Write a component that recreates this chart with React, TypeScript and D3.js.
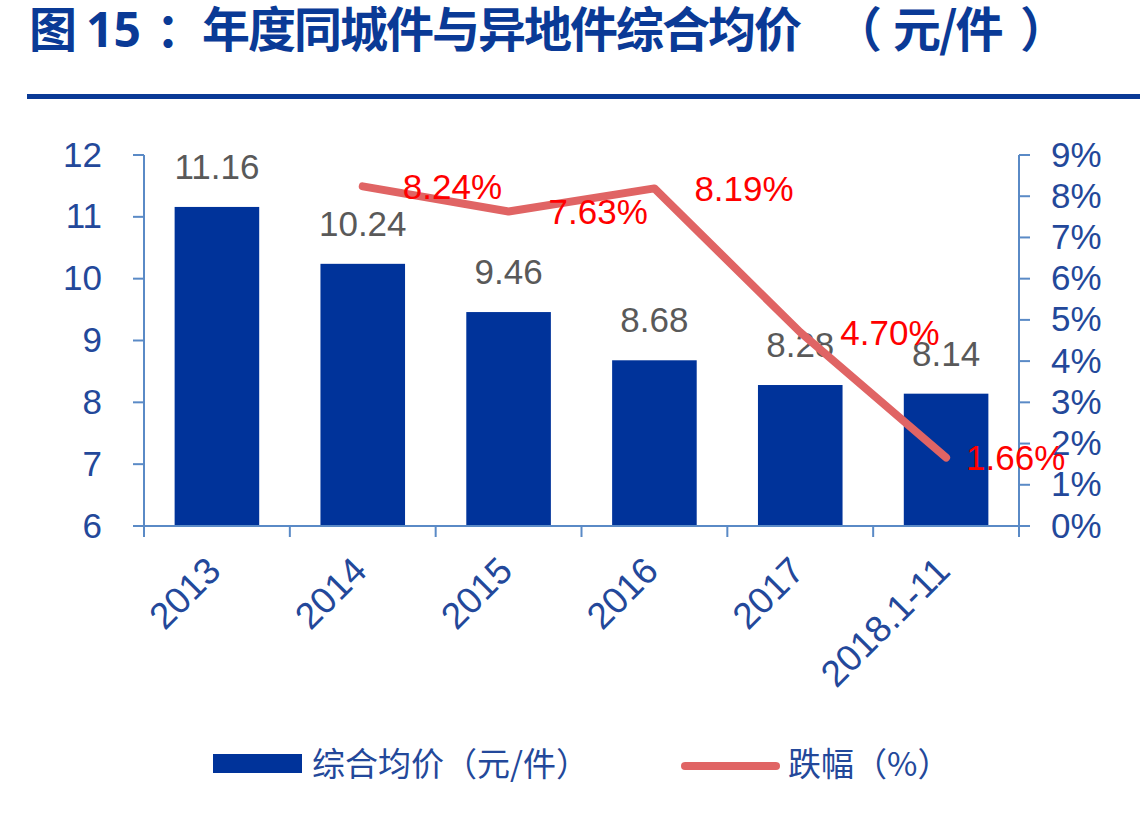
import React from "react";
import * as d3 from "d3";

const categories = ["2013", "2014", "2015", "2016", "2017", "2018.1-11"];
const avgPrice = [11.16, 10.24, 9.46, 8.68, 8.28, 8.14];
const dropPct: (number | null)[] = [null, 8.24, 7.63, 8.19, 4.7, 1.66];
const leftTicks = [6, 7, 8, 9, 10, 11, 12];
const rightTicks = [0, 1, 2, 3, 4, 5, 6, 7, 8, 9];
const titleHead = ["图", "15", "："];
const titleBody = "年度同城件与异地件综合均价";
const titleTail = ["（", "元/件", "）"];
const legendBar = "综合均价（元/件）";
const legendLine = "跌幅（%）";

const W = 1140;
const H = 816;
const plotL = 144;
const plotR = 1019;
const plotT = 155;
const plotB = 526;

const NUM_FONT = "'Liberation Sans', Arial, sans-serif";
const CJK_FONT = "'Noto Sans CJK SC', 'Noto Sans', sans-serif";
const AXIS = "#5A8AC6";
const TICK_TXT = "#23489A";
const BAR = "#00339A";
const LINE = "#E06464";
const TITLE = "#0A3A96";

export default function App() {
  const x = d3
    .scaleBand<string>()
    .domain(categories)
    .range([plotL, plotR])
    .paddingInner(0.42)
    .paddingOuter(0.21);
  const yL = d3.scaleLinear().domain([6, 12]).range([plotB, plotT]);
  const yR = d3.scaleLinear().domain([0, 9]).range([plotB, plotT]);
  const cx = (c: string) => (x(c) ?? 0) + x.bandwidth() / 2;

  const linePts = categories
    .map((c, i) => ({ c, v: dropPct[i] }))
    .filter((d) => d.v !== null) as { c: string; v: number }[];
  const lineGen = d3
    .line<{ c: string; v: number }>()
    .x((d) => cx(d.c))
    .y((d) => yR(d.v));

  const xTicks = d3.range(categories.length + 1).map((i) => plotL + i * x.step());

  const titleY = 47;

  return (
    <svg width={W} height={H} style={{ display: "block", position: "absolute", left: 0, top: 0 }}>
      <rect width={W} height={H} fill="#fff" />
      {/* title */}
      <g fontFamily={CJK_FONT} fontWeight={700} fontSize={48} fill={TITLE}>
        <text x={29} y={titleY}>{titleHead[0]}</text>
        <text x={86} y={titleY} fontFamily={"'Noto Sans', " + CJK_FONT}>{titleHead[1]}</text>
        <text x={156} y={titleY}>{titleHead[2]}</text>
        <text x={202} y={titleY} letterSpacing={-2}>{titleBody}</text>
        <text x={834} y={titleY}>{titleTail[0]}</text>
        <text x={893} y={titleY} letterSpacing={-2}>{titleTail[1]}</text>
        <text x={1020} y={titleY}>{titleTail[2]}</text>
      </g>
      <rect x={27} y={94} width={W - 27} height={5} fill={TITLE} />

      {/* bars */}
      {categories.map((c, i) => (
        <rect
          key={c}
          x={x(c)}
          y={yL(avgPrice[i])}
          width={x.bandwidth()}
          height={plotB - yL(avgPrice[i])}
          fill={BAR}
        />
      ))}

      {/* left axis */}
      <line x1={plotL} x2={plotL} y1={plotT} y2={plotB} stroke={AXIS} strokeWidth={2} />
      {leftTicks.map((t) => (
        <g key={t}>
          <line x1={plotL - 11} x2={plotL} y1={yL(t)} y2={yL(t)} stroke={AXIS} strokeWidth={2} />
          <text
            x={102}
            y={yL(t)}
            dy="0.33em"
            textAnchor="end"
            fontFamily={NUM_FONT}
            fontSize={35}
            fill={TICK_TXT}
          >
            {t}
          </text>
        </g>
      ))}

      {/* right axis */}
      <line x1={plotR} x2={plotR} y1={plotT} y2={plotB} stroke={AXIS} strokeWidth={2} />
      {rightTicks.map((t) => (
        <g key={t}>
          <line x1={plotR} x2={plotR + 11} y1={yR(t)} y2={yR(t)} stroke={AXIS} strokeWidth={2} />
          <text
            x={1051}
            y={yR(t)}
            dy="0.33em"
            textAnchor="start"
            fontFamily={NUM_FONT}
            fontSize={35}
            fill={TICK_TXT}
          >
            {t}%
          </text>
        </g>
      ))}

      {/* x axis */}
      <line x1={plotL - 11} x2={plotR} y1={plotB} y2={plotB} stroke={AXIS} strokeWidth={2} />
      {xTicks.map((t, i) => (
        <line key={i} x1={t} x2={t} y1={plotB} y2={plotB + 11} stroke={AXIS} strokeWidth={2} />
      ))}
      {categories.map((c) => (
        <text
          key={c}
          transform={`translate(${cx(c) + 6},${573}) rotate(-45)`}
          textAnchor="end"
          fontFamily={NUM_FONT}
          fontSize={37}
          fill={TICK_TXT}
        >
          {c}
        </text>
      ))}

      {/* bar labels */}
      {categories.map((c, i) => (
        <text
          key={c}
          x={cx(c)}
          y={yL(avgPrice[i]) - 28}
          textAnchor="middle"
          fontFamily={NUM_FONT}
          fontSize={35}
          fill="#595959"
        >
          {avgPrice[i].toFixed(2)}
        </text>
      ))}

      {/* line */}
      <path
        d={lineGen(linePts) ?? ""}
        fill="none"
        stroke={LINE}
        strokeWidth={8}
        strokeLinejoin="round"
        strokeLinecap="round"
      />
      {linePts.map((d) => (
        <text
          key={d.c}
          x={Math.min(cx(d.c) + 40, 966)}
          y={yR(d.v)}
          dy="0.35em"
          fontFamily={NUM_FONT}
          fontSize={35}
          fill="#FF0000"
        >
          {d.v.toFixed(2)}%
        </text>
      ))}

      {/* legend */}
      <rect x={213} y={754} width={89} height={19} fill={BAR} />
      <text x={312} y={764} dy="0.35em" fontFamily={CJK_FONT} fontSize={33} fill={TICK_TXT}>
        {legendBar}
      </text>
      <line x1={685} x2={776} y1={766} y2={766} stroke={LINE} strokeWidth={8} strokeLinecap="round" />
      <text x={788} y={764} dy="0.35em" fontFamily={CJK_FONT} fontSize={33} fill={TICK_TXT}>
        {legendLine}
      </text>
    </svg>
  );
}
